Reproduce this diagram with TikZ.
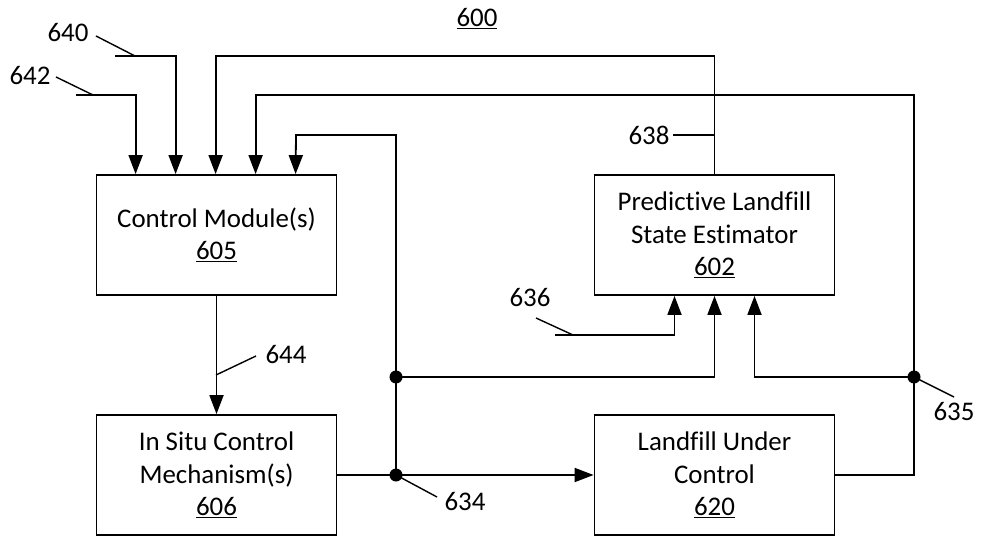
\documentclass[tikz,border=0pt]{standalone}
\usepackage{fontspec}
\setmainfont{Carlito}[Ligatures=NoCommon]
\usetikzlibrary{arrows.meta,calc}
\begin{document}
\begin{tikzpicture}[x=1bp,y=-1bp,
  box/.style={draw,line width=1.8bp,minimum width=240bp,minimum height=120bp,inner sep=0pt,align=center,
    font=\fontsize{27}{32.5}\selectfont},
  lbl/.style={inner sep=0pt,font=\fontsize{27}{30}\selectfont},
  wire/.style={line width=1.8bp},
  arr/.style={wire,-{Triangle[length=19bp,width=14bp]}},
  leader/.style={line width=1.4bp},
  dot/.style={circle,fill,inner sep=0pt,minimum size=13bp}]
\useasboundingbox (0,0) rectangle (981,540);

% boxes
\node[box] (cm) at (216.5,235) {Control Module(s)\\\underline{605}};
\node[box] (pse) at (714.5,235) {Predictive Landfill\\State Estimator\\\underline{602}};
\node[box] (isc) at (216.5,475) {In Situ Control\\Mechanism(s)\\\underline{606}};
\node[box] (luc) at (714.5,475) {Landfill Under\\Control\\\underline{620}};

% title
\node[lbl] (t600) at (477,19) {\underline{600}};

% coordinates on control module top
\coordinate (cmA) at ($(cm.north west)+(40,0)$);
\coordinate (cmB) at ($(cm.north west)+(80,0)$);
\coordinate (cmC) at ($(cm.north west)+(120,0)$);
\coordinate (cmD) at ($(cm.north west)+(160,0)$);
\coordinate (cmE) at ($(cm.north west)+(200,0)$);
% coordinates on estimator bottom
\coordinate (psA) at ($(pse.south)+(-40,0)$);
\coordinate (psC) at ($(pse.south)+(40,0)$);

% free ends and junctions
\coordinate (i640) at (115,56);
\coordinate (i642) at (76,95);
\coordinate (i636) at (555,335);
\coordinate (k5) at (296,135);
\coordinate (j634) at (396,475);
\coordinate (j634b) at (396,377);
\coordinate (j635) at (914,377);

% inputs to control module
\draw[arr] (i642) -| (cmA);
\draw[arr] (i640) -| (cmB);
\draw[arr] (pse.north) |- (cmC |- i640) -- (cmC);
\draw[arr] (luc.east) -| (j635) |- (cmD |- i642) -- (cmD);
\draw[arr] (j634) |- (k5) -- (cmE);

% control module to in situ
\draw[arr] (cm.south) -- (isc.north);
% in situ to landfill
\draw[arr] (isc.east) -- (luc.west);
% to estimator
\draw[arr] (j634b) -| (pse.south);
\draw[arr] (j635) -| (psC);
\draw[arr] (i636) -| (psA);

% junction dots
\node[dot] (d634) at (j634) {};
\node[dot] (d634b) at (j634b) {};
\node[dot] (d635) at (j635) {};

% labels with leaders
\node[lbl] (l640) at (68,33) {640};
\draw[leader] (96,36) -- (135,56);
\node[lbl] (l642) at (30,76) {642};
\draw[leader] (56,77) -- (93,95);
\node[lbl] (l638) at (649,135) {638};
\draw[leader] (673,135) -- (pse.north |- l638);
\node[lbl] (l644) at (286,355) {644};
\draw[leader] (216,375) -- (256,356);
\node[lbl] (l634) at (465,502) {634};
\draw[leader] (j634) -- (437,497);
\node[lbl] (l636) at (530,298) {636};
\draw[leader] (536,318) -- (573,335);
\node[lbl] (l635) at (954,412) {635};
\draw[leader] (j635) -- (954,397);
\end{tikzpicture}
\end{document}
